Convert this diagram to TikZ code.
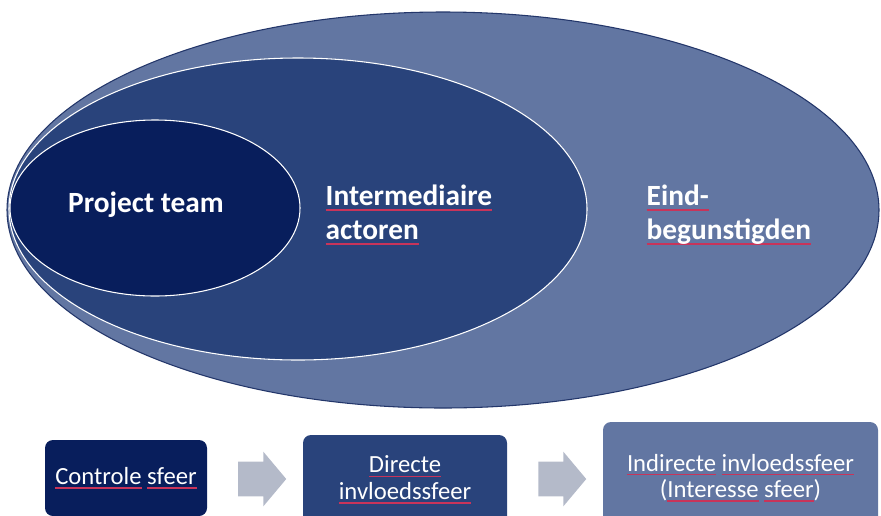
\documentclass[tikz,border=0pt]{standalone}
\usepackage{xcolor}
\usepackage{fontspec}
\setmainfont{Carlito}
\usepackage{tikz}
\usetikzlibrary{shapes.geometric,shapes.arrows,calc}

\definecolor{teamblue}{HTML}{081E5C}
\definecolor{interblue}{HTML}{29437B}
\definecolor{eindblue}{HTML}{6276A2}
\definecolor{eindline}{HTML}{23366A}
\definecolor{arrowgrey}{HTML}{B4BAC9}
\definecolor{spellred}{HTML}{C8345A}

% red spell-check line under a word
\newcommand\spell[1]{\setbox0\hbox{#1}\rlap{\textcolor{spellred}{\rule[-0.18em]{\wd0}{0.075em}}}\box0\relax}

\begin{document}
\begin{tikzpicture}[
  x=0.75pt, y=-0.75pt,
  orb/.style={ellipse,inner sep=0pt},
  lbl/.style={text=white,font=\bfseries\fontsize{22}{25.5}\selectfont,align=left},
  sfeer/.style={rounded corners=6pt,inner sep=0pt,text=white,font=\fontsize{18.5}{20}\selectfont,align=center},
  blockarr/.style={single arrow,fill=arrowgrey,inner xsep=0pt,inner ysep=12.75pt,minimum height=36pt,
    single arrow head extend=7.5pt,single arrow head indent=0pt,single arrow tip angle=100}
]
  \useasboundingbox (0,0) rectangle (881,515);

  % the three spheres
  \node[orb,draw=eindline,line width=0.8pt,fill=eindblue,minimum width=654pt,minimum height=297pt] (eind) at (443,210) {};
  \node[orb,draw=white,line width=0.8pt,fill=interblue,minimum width=433.5pt,minimum height=226.5pt] (inter) at (298,209) {};
  \node[orb,draw=white,line width=0.8pt,fill=teamblue,minimum width=217.5pt,minimum height=132pt] (team) at (155,208) {};

  \node[lbl,anchor=base] (teamlbl) at (146,212) {Project team};
  \node[lbl,anchor=west] (interlbl) at (321,215) {\spell{Intermediaire}\\\spell{actoren}};
  \node[lbl,anchor=west] (eindlbl) at (642,215) {\spell{Eind-}\\\spell{begunstigden}};

  % spheres of influence
  \node[sfeer,fill=teamblue,minimum width=121.5pt,minimum height=57pt] (ctrl) at (126,478) {\spell{Controle} \spell{sfeer}};
  \node[sfeer,fill=interblue,minimum width=153pt,minimum height=67.5pt] (direct) at (405,480) {\spell{Directe}\\\spell{invloedssfeer}};
  \node[sfeer,fill=eindblue,minimum width=206.25pt,minimum height=84pt] (indirect) at (740.5,478) {\spell{Indirecte} \spell{invloedssfeer}\\(\spell{Interesse} \spell{sfeer})};

  \node[blockarr] (arr1) at ($(ctrl.east)!0.5!(direct.west)$) {};
  \node[blockarr] (arr2) at ($(direct.east)!0.5!(indirect.west)$) {};
\end{tikzpicture}
\end{document}
